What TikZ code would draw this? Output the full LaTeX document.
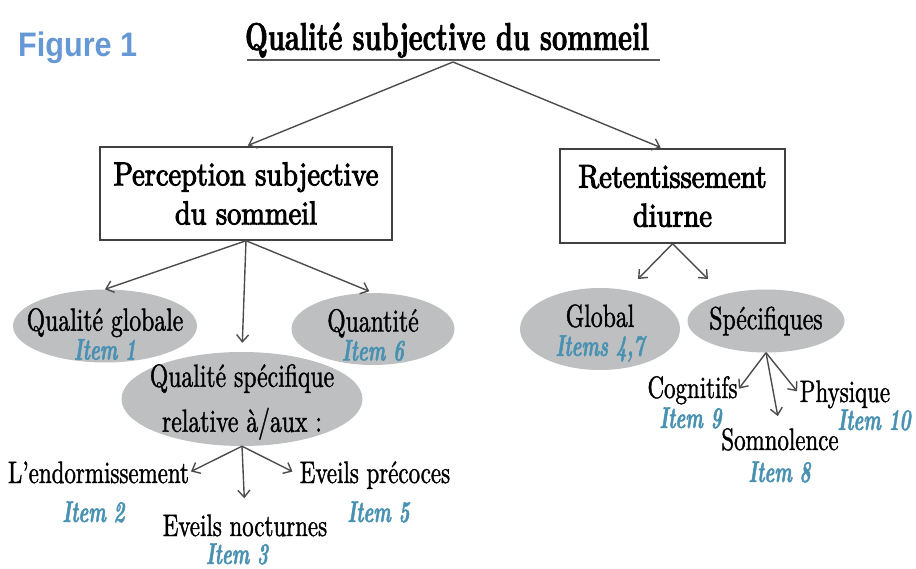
\documentclass[tikz,border=0pt]{standalone}
\usepackage{fontspec}
\setmainfont{lmroman10}[Extension=.otf, UprightFont=*-regular, BoldFont=*-bold,
  ItalicFont=*-italic, BoldItalicFont=*-bolditalic, FakeStretch=0.74, FakeBold=1.2]
\newfontfamily\headfont{lmroman10-bold.otf}[FakeStretch=0.68, FakeBold=1.5]
\newfontfamily\boxfont{lmroman10-regular.otf}[FakeStretch=0.86, FakeBold=3]
\newfontfamily\itemfont{lmroman10-bolditalic.otf}[FakeStretch=0.62, FakeBold=1.5]
\newfontfamily\figfont{Liberation Sans}[FakeStretch=0.9]
\usepackage{tikz}
\usetikzlibrary{arrows.meta}
\usetikzlibrary{shapes.geometric}
\definecolor{itemblue}{RGB}{72,145,178}
\definecolor{figblue}{RGB}{103,152,214}
\definecolor{blobgray}{RGB}{190,191,193}
\newcommand{\itemtxt}[1]{{\itemfont\fontsize{30}{29}\selectfont\color{itemblue}#1}}

\begin{document}
\begin{tikzpicture}[x=1pt, y=-1pt,
        >={Straight Barb[length=7pt,width=12pt]},
        conn/.style={->, draw=black!70, line width=1.4pt},
        heading/.style={rectangle, draw=black!75, line width=1.5pt, align=center,
            font=\boxfont\fontsize{33}{39}\selectfont},
        blob/.style={ellipse, fill=blobgray, inner sep=0pt},
        blobtext/.style={inner sep=0pt, align=center, font=\fontsize{32}{29}\selectfont},
        leaf/.style={anchor=base, inner sep=0pt, font=\fontsize{31}{31}\selectfont},
        itemlbl/.style={anchor=base, inner sep=0pt, text=itemblue,
            font=\itemfont\fontsize{30}{30}\selectfont}]
        \useasboundingbox (0,0) rectangle (916,569);

        \node[anchor=base west, inner sep=0pt, text=figblue,
              font=\figfont\bfseries\fontsize{34}{34}\selectfont] (fig) at (18,57) {Figure 1};

        % top of the tree
        \node[anchor=base, inner sep=0pt, font=\headfont\fontsize{39}{39}\selectfont]
            (title) at (447,50) {Qualité subjective du sommeil};
        \draw[black!65, line width=2.5pt] (247,60) -- (660,60);
        \coordinate (apex) at (453,62);

        \node[heading, minimum width=292pt, minimum height=93pt] (percep) at (246,193.5)
            {Perception subjective\\du sommeil};
        \node[heading, minimum width=225pt, minimum height=94pt] (retent) at (672.5,196)
            {Retentissement\\diurne};

        \draw[conn, shorten >=2pt] (apex) -- (percep.north);
        \draw[conn, shorten >=2pt] (apex) -- ([xshift=-10pt]retent.north);

        % left branch
        \node[blob, minimum width=184pt, minimum height=73pt,
              label={[blobtext, yshift=-8pt]center:{Qualité globale\\\itemtxt{Item 1}}}]
            (qglob) at (105,326) {};
        \node[blob, minimum width=163pt, minimum height=72pt,
              label={[blobtext, yshift=-6pt]center:{Quantité\\\itemtxt{Item 6}}}]
            (quant) at (373,329) {};
        \node[blob, minimum width=241pt, minimum height=94pt,
              label={[blobtext, font=\fontsize{32}{45}\selectfont, yshift=-3pt]center:{Qualité spécifique\\relative à/aux :}}]
            (qspec) at (242,399) {};

        \draw[conn] (percep.south) -- (qglob.north);
        \draw[conn, shorten >=9pt] (percep.south) -- (qspec.north);
        \draw[conn, shorten >=4pt] (percep.south) -- (quant.north);

        \node[leaf] (endorm) at (98.5,483) {L'endormissement};
        \node[itemlbl] (endorm-item) at (93.5,522) {Item 2};
        \node[leaf] (noct) at (245,536) {Eveils nocturnes};
        \node[itemlbl] (noct-item) at (237,564) {Item 3};
        \node[leaf] (precoce) at (375,483) {Eveils précoces};
        \node[itemlbl] (precoce-item) at (378.5,522) {Item 5};

        \draw[conn, shorten >=2pt] (qspec.south) -- (endorm.east);
        \draw[conn, shorten >=16pt] (qspec.south) -- (noct.north);
        \draw[conn, shorten >=8pt] (qspec.south) -- (precoce.west);

        % right branch
        \node[blob, minimum width=160pt, minimum height=82pt,
              label={[blobtext, yshift=-4pt]center:{Global\\\itemtxt{Items 4,7}}}]
            (glob) at (600,329) {};
        \node[blob, minimum width=157pt, minimum height=63pt,
              label={[blobtext]center:Spécifiques}]
            (spec) at (766,321) {};
        \coordinate (glob-in) at (638,279);
        \coordinate (spec-in) at (708,279);
        \draw[conn] (retent.south) -- (glob-in);
        \draw[conn] (retent.south) -- (spec-in);

        \node[leaf] (cogn) at (692.5,398) {Cognitifs};
        \node[itemlbl] (cogn-item) at (690.5,428) {Item 9};
        \node[leaf] (somno) at (780,450) {Somnolence};
        \node[itemlbl] (somno-item) at (779.5,482) {Item 8};
        \node[leaf] (phys) at (845,402) {Physique};
        \node[itemlbl] (phys-item) at (874,430) {Item 10};

        \draw[conn, shorten >=2pt] (spec.south) -- (cogn.east);
        \draw[conn, shorten >=12pt] (spec.south) -- (somno.north);
        \draw[conn, shorten >=4pt] (spec.south) -- (phys.west);
    \end{tikzpicture}
\end{document}
